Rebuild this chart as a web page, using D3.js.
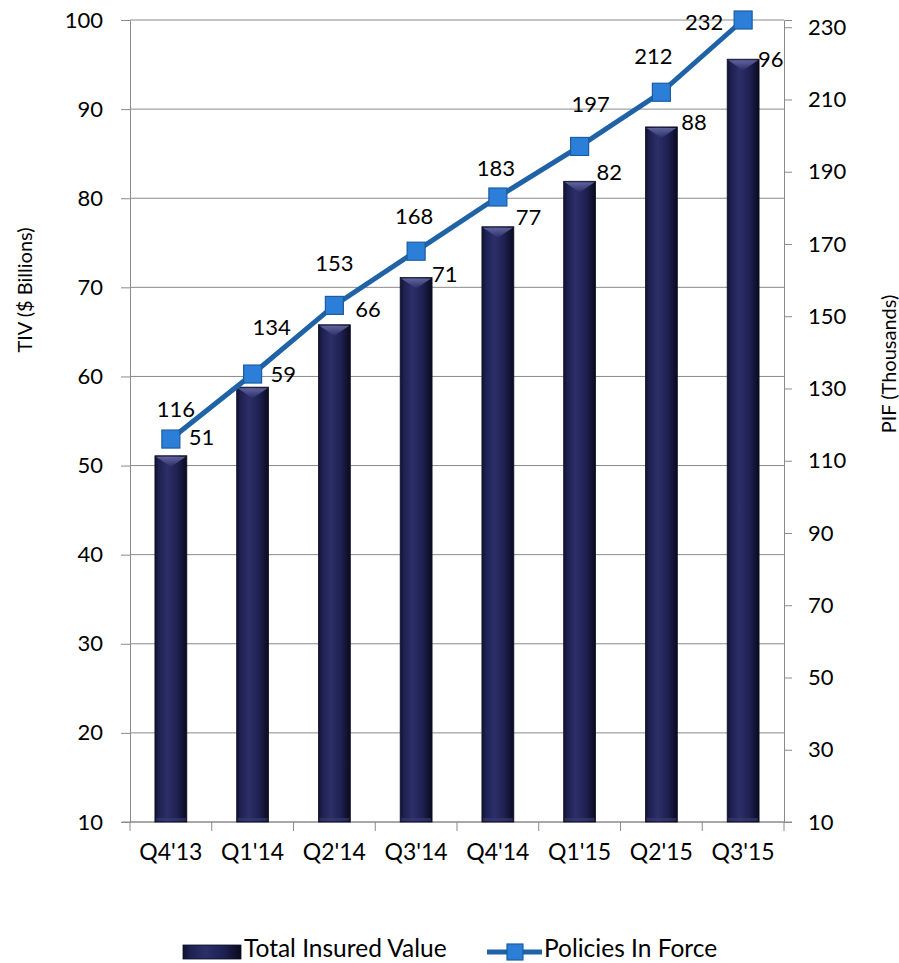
<!DOCTYPE html>
<html><head><meta charset="utf-8">
<script src="https://cdn.jsdelivr.net/npm/d3@7"></script>
<style>
html,body{margin:0;padding:0;background:#fff;}
svg{display:block;font-family:Lato,"Open Sans",sans-serif;}
</style></head>
<body>
<svg id="chart" width="899" height="963"></svg>
<script>
// ---- data ----
const categories = ["Q4'13","Q1'14","Q2'14","Q3'14","Q4'14","Q1'15","Q2'15","Q3'15"];
const tivValues  = [51.1, 58.8, 65.8, 71.1, 76.8, 81.9, 88.0, 95.6];
const tivLabels  = ["51","59","66","71","77","82","88","96"];
const pifValues  = [116, 134, 153, 168, 183, 197, 212, 232];
const pifLabels  = ["116","134","153","168","183","197","212","232"];
const leftTicks  = [10,20,30,40,50,60,70,80,90,100];
const rightTicks = [10,30,50,70,90,110,130,150,170,190,210,230];
const seriesNames = ["Total Insured Value","Policies In Force"];

// label nudges (layout, px) as placed in the original
const barLabelNudge = [[2,-11],[2,-5],[5,-8],[0,4],[2,-2],[1,-1],[4,3],[-1,8]];
const lineLabelNudge = [[5,-22],[19,-39],[0,-34],[-2,-27],[-2,-21],[11,-34],[-8,-28],[-39,10]];

const svg = d3.select("#chart");
const L = 130, R = 784, T = 20, B = 822;
const FS = 22;

const x = d3.scaleBand().domain(categories).range([L, R]).paddingInner(0).paddingOuter(0);
const yL = d3.scaleLinear().domain([10, 100]).range([B, T]);
const yR = d3.scaleLinear().domain([10, 232]).range([B, T]);

const defs = svg.append("defs");
const g1 = defs.append("linearGradient").attr("id","barGrad").attr("x1","0").attr("x2","1").attr("y1","0").attr("y2","0");
[["0%","#111230"],["12%","#1e2050"],["38%","#2c2f68"],["70%","#1f2152"],["100%","#0a0a1e"]]
  .forEach(s=>g1.append("stop").attr("offset",s[0]).attr("stop-color",s[1]));
const g2 = defs.append("linearGradient").attr("id","capGrad").attr("x1","0").attr("x2","0").attr("y1","0").attr("y2","1");
[["0%","#6a6ea8"],["100%","#2c2f68"]].forEach(s=>g2.append("stop").attr("offset",s[0]).attr("stop-color",s[1]));

// gridlines
svg.append("g").selectAll("line").data(leftTicks).join("line")
  .attr("x1", L).attr("x2", R).attr("y1", d=>yL(d)).attr("y2", d=>yL(d))
  .attr("stroke", "#8a8a8a").attr("stroke-width", 1);

// left axis
const axL = svg.append("g").attr("transform", `translate(${L},0)`)
  .call(d3.axisLeft(yL).tickValues(leftTicks).tickSize(9).tickPadding(18));
// right axis
const axR = svg.append("g").attr("transform", `translate(${R},0)`)
  .call(d3.axisRight(yR).tickValues(rightTicks).tickSize(8).tickPadding(16));
// bottom axis
const bandEdges = d3.range(categories.length + 1).map(i => L + i * x.bandwidth());
const axB = svg.append("g").attr("transform", `translate(0,${B})`)
  .call(d3.axisBottom(x).tickSize(0).tickPadding(30));
axB.select(".domain").remove();
axB.append("line").attr("x1", L-8).attr("x2", R+8).attr("y1",0).attr("y2",0).attr("stroke","#8a8a8a");
axB.selectAll("line.edge").data(bandEdges).join("line").attr("class","edge")
  .attr("x1", d=>d).attr("x2", d=>d).attr("y1", 0).attr("y2", 9).attr("stroke","#8a8a8a");

[axL, axR, axB].forEach(a => {
  a.selectAll(".domain").attr("stroke","#8a8a8a");
  a.selectAll(".tick line").attr("stroke","#8a8a8a");
  a.selectAll("text").attr("font-size", FS).attr("fill","#000").attr("font-family","Lato, sans-serif");
});
axB.selectAll(".tick text").attr("font-size", 23).attr("dy","0.35em");

// axis titles
svg.append("text").attr("transform", `translate(24,290) rotate(-90)`)
  .attr("text-anchor","middle").attr("dominant-baseline","central").attr("font-size",20).text("TIV ($ Billions)");
svg.append("text").attr("transform", `translate(888,364) rotate(-90)`)
  .attr("text-anchor","middle").attr("dominant-baseline","central").attr("font-size",20).text("PIF (Thousands)");

// bars
const bw = x.bandwidth() * 0.39;
const bars = svg.append("g").selectAll("g").data(tivValues).join("g")
  .attr("transform", (d,i) => `translate(${x(categories[i]) + x.bandwidth()/2 - bw/2},0)`);
bars.append("rect").attr("x",0).attr("y", d=>yL(d)).attr("width", bw).attr("height", d=>B - yL(d))
  .attr("fill","url(#barGrad)").attr("stroke","#0d0e26").attr("stroke-width",0.8);
bars.append("path").attr("d", d => {
  const t = yL(d);
  return `M1,${t+1} L${bw-1},${t+1} L${bw/2},${t+11} Z`;
}).attr("fill","url(#capGrad)").attr("opacity",0.85);
bars.append("rect").attr("x",1).attr("y", B-4).attr("width", bw-2).attr("height",3).attr("fill","#3a3d70").attr("opacity",0.6);

// bar labels
svg.append("g").selectAll("text").data(tivValues).join("text")
  .attr("x", (d,i) => x(categories[i]) + x.bandwidth()/2 + bw/2 + barLabelNudge[i][0])
  .attr("y", (d,i) => yL(d) + barLabelNudge[i][1])
  .attr("font-size", FS).attr("fill","#000")
  .text((d,i) => tivLabels[i]);

// line
const cx = i => x(categories[i]) + x.bandwidth()/2;
const line = d3.line().x((d,i)=>cx(i)).y(d=>yR(d));
svg.append("path").datum(pifValues).attr("d", line)
  .attr("fill","none").attr("stroke","#1f63a6").attr("stroke-width",5);
const ms = 18;
svg.append("g").selectAll("rect").data(pifValues).join("rect")
  .attr("x",(d,i)=>cx(i)-ms/2).attr("y", d=>yR(d)-ms/2).attr("width",ms).attr("height",ms)
  .attr("fill","#2b7fd8").attr("stroke","#1d5c9e").attr("stroke-width",1.2);

// line labels
svg.append("g").selectAll("text").data(pifValues).join("text")
  .attr("x",(d,i)=>cx(i) + lineLabelNudge[i][0])
  .attr("y",(d,i)=>yR(d) + lineLabelNudge[i][1])
  .attr("text-anchor","middle").attr("font-size", FS).attr("fill","#000")
  .text((d,i)=>pifLabels[i]);

// legend
const lg = svg.append("g");
lg.append("rect").attr("x",183).attr("y",945).attr("width",58).attr("height",14)
  .attr("fill","url(#barGrad)").attr("stroke","#0d0e26").attr("stroke-width",0.8);
lg.append("text").attr("x",244).attr("y",957).attr("font-size",24.5).text(seriesNames[0]);
lg.append("line").attr("x1",487).attr("x2",542).attr("y1",952).attr("y2",952)
  .attr("stroke","#1f63a6").attr("stroke-width",5);
lg.append("rect").attr("x",507).attr("y",944).attr("width",16).attr("height",16)
  .attr("fill","#2b7fd8").attr("stroke","#1d5c9e").attr("stroke-width",1.2);
lg.append("text").attr("x",544).attr("y",957).attr("font-size",24.5).text(seriesNames[1]);
</script>
</body></html>
